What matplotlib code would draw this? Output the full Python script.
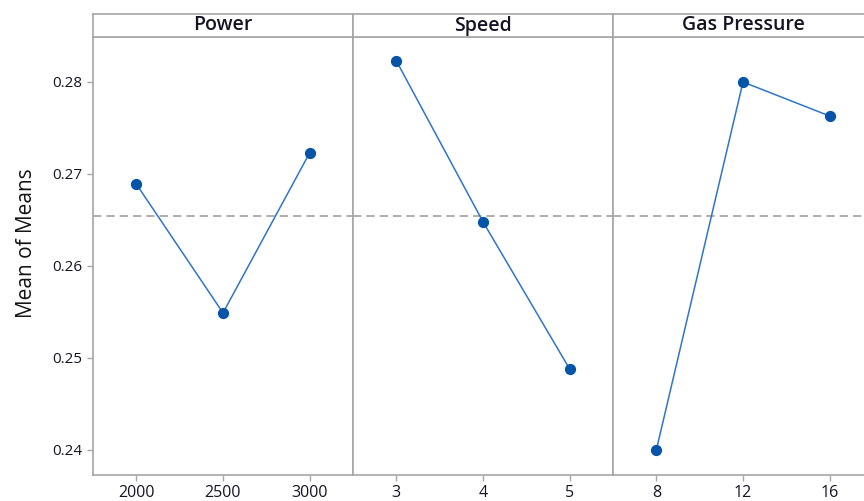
import matplotlib
matplotlib.use("Agg")
import matplotlib.pyplot as plt

# Main effects data (mean of means)
factors = ["Power", "Speed", "Gas Pressure"]
levels = [["2000", "2500", "3000"], ["3", "4", "5"], ["8", "12", "16"]]
means = [
    [0.2689, 0.2549, 0.2723],
    [0.2823, 0.2648, 0.2488],
    [0.2400, 0.2800, 0.2763],
]
grand_mean = 0.2654
yticks = [0.24, 0.25, 0.26, 0.27, 0.28]

plt.rcParams["font.family"] = ["Open Sans", "DejaVu Sans"]
frame = "#a6a6a6"

W, H = 864, 501
fig = plt.figure(figsize=(W / 100, H / 100), dpi=100)

left, pw = 93, 260
top_hdr, bot_hdr, bot = 14, 37, 475

for i, name in enumerate(factors):
    x0 = (left + i * pw) / W
    ax = fig.add_axes([x0, (H - bot) / H, pw / W, (bot - bot_hdr) / H])
    hd = fig.add_axes([x0, (H - bot_hdr) / H, pw / W, (bot_hdr - top_hdr) / H])

    xs = range(len(levels[i]))
    ax.plot(xs, means[i], color="#2e75c8", lw=1.1, zorder=3)
    ax.scatter(xs, means[i], s=50, color="#0455a8", zorder=4)
    ax.axhline(grand_mean, color="#a0a0a0", ls=(0, (5, 3)), lw=1.2, zorder=2)

    ax.set_xlim(-0.5, 2.5)
    ax.set_ylim(0.23728, 0.28489)
    ax.set_xticks(list(xs))
    ax.set_xticklabels(levels[i], fontsize=11.5)
    ax.set_yticks(yticks)
    ax.tick_params(colors=frame, labelcolor="#141424", length=4, width=1)
    if i == 0:
        ax.set_yticklabels([f"{v:.2f}" for v in yticks], fontsize=11)
        ax.set_ylabel("Mean of Means", fontsize=15, color="#141414")
        ax.yaxis.set_label_coords(-0.215, 0.53)
    else:
        ax.tick_params(axis="y", left=False, labelleft=False)
    for s in ax.spines.values():
        s.set_color(frame)
        s.set_linewidth(1.2)

    hd.set_xticks([])
    hd.set_yticks([])
    for s in hd.spines.values():
        s.set_color(frame)
        s.set_linewidth(1.2)
    hd.text(0.5, 0.5, name, ha="center", va="center", fontsize=14,
            fontweight="semibold", color="#141424", transform=hd.transAxes)

fig.savefig("out.png", dpi=100)
